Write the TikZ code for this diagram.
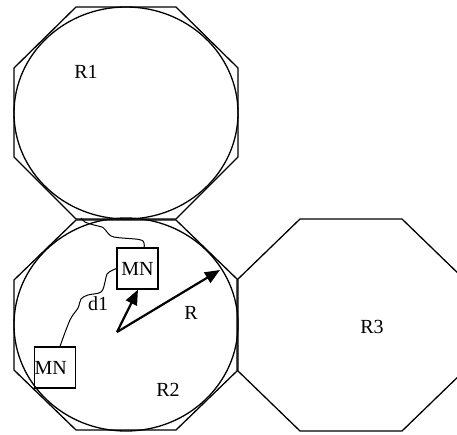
\documentclass[tikz,border=0pt]{standalone}
\usepackage{fontspec}
\setmainfont{Liberation Serif}
\usetikzlibrary{arrows.meta}
\begin{document}
\begin{tikzpicture}[x=1pt,y=-1pt,
  every node/.style={font=\fontsize{20}{24}\selectfont, inner sep=0pt},
  cell/.style={line width=1.3pt, line join=miter},
  mnbox/.style={draw, line width=1.3pt, minimum width=41pt, minimum height=41pt},
  vec/.style={line width=2.2pt, -{Triangle[length=15pt,width=12pt]}},
  wave/.style={line width=1pt}]
\clip (0,0) rectangle (457,434);
% cells
\draw[cell] (76,7) -- (176,7) -- (238,68) -- (238,157) -- (176,219) -- (76,219) -- (14,157) -- (14,68) -- cycle;
\draw[cell] (126,113) ellipse [x radius=112, y radius=106];
\draw[cell] (76,220) -- (176,220) -- (238,280) -- (238,370) -- (176,430) -- (76,430) -- (14,370) -- (14,280) -- cycle;
\draw[cell] (126,324.5) ellipse [x radius=112, y radius=106.5];
\draw[cell] (300,219) -- (402,219) -- (465,280) -- (465,370) -- (402,431) -- (300,431) -- (237,370) -- (237,280) -- cycle;
% labels
\node (r1) at (86,72) {R1};
\node (r2) at (168,390) {R2};
\node (r3) at (372,327) {R3};
\node (rl) at (191,313) {R};
\node (d1) at (98,304) {d1};
% mobile nodes
\node[mnbox] (mn1) at (137.5,268.5) {MN};
\node[mnbox, text width=41pt, align=left] (mn2) at (55,367.5) {MN};
% base station centre
\coordinate (bs) at (117,332);
\coordinate (redge) at (220,270);
\draw[vec] (bs) -- ([xshift=0.5pt]mn1.south);
\draw[vec] (bs) -- (redge);
% wavy links
\coordinate (wend) at (81,218);
\draw[wave] plot[smooth, tension=0.6] coordinates {([xshift=5pt]mn2.north) (70,320) (78,308) (81,299) (88,295) (101,292) (105,282) (107,274) (112,270.5) (mn1.west)};
\draw[wave] plot[smooth, tension=0.6] coordinates {([xshift=6.5pt]mn1.north) (144,243) (139,239.5) (114,237) (107,232) (103,227.5) (94,225) (85,222) (wend)};
\end{tikzpicture}
\end{document}
